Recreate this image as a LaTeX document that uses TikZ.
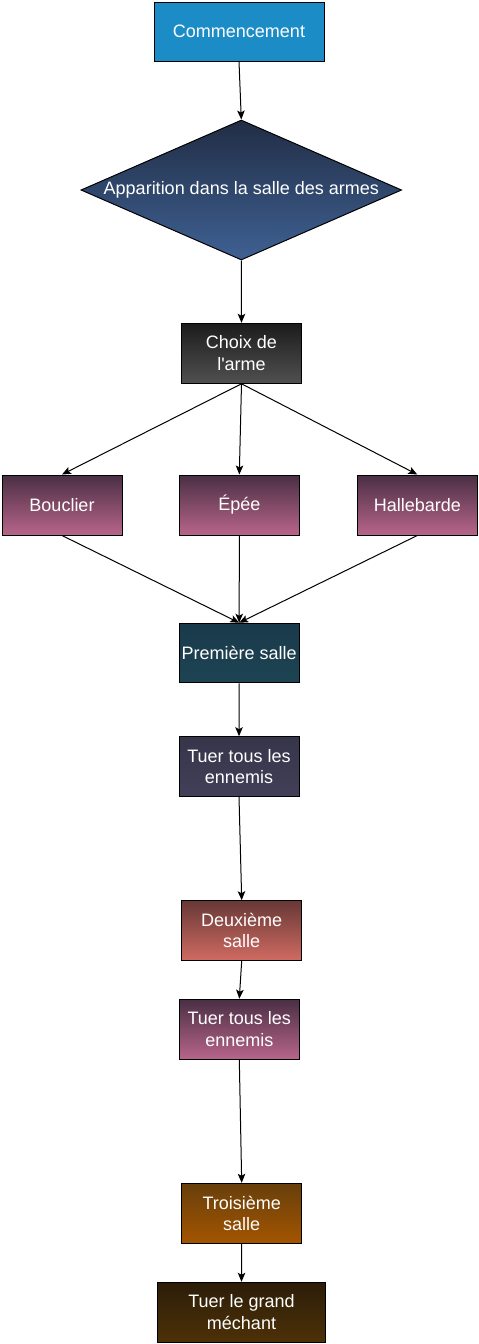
\documentclass[tikz,border=0pt]{standalone}
\usepackage{fontspec}
\setmainfont{Liberation Sans}
\usetikzlibrary{arrows.meta,shapes.geometric}
\definecolor{cstart}{HTML}{1B8CC5}
\definecolor{diaT}{HTML}{212D45}
\definecolor{diaB}{HTML}{3F6193}
\definecolor{choixT}{HTML}{1C1C1C}
\definecolor{choixB}{HTML}{505050}
\definecolor{armT}{HTML}{4A2F44}
\definecolor{armB}{HTML}{B8658A}
\definecolor{premT}{HTML}{1A3A4A}
\definecolor{premB}{HTML}{1D4454}
\definecolor{tuerT}{HTML}{36354A}
\definecolor{tuerB}{HTML}{423F58}
\definecolor{deuxT}{HTML}{673836}
\definecolor{deuxB}{HTML}{D06B62}
\definecolor{troisT}{HTML}{673F0C}
\definecolor{troisB}{HTML}{A35500}
\definecolor{grandT}{HTML}{2C1D08}
\definecolor{grandB}{HTML}{4D3108}
\begin{document}
\begin{tikzpicture}[x=1pt,y=-1pt,
  box/.style={draw=black, line width=1pt, minimum width=120pt, minimum height=60pt,
    inner sep=0pt, align=center, text=white, font=\fontsize{18}{21.6}\selectfont},
  arr/.style={draw=black, line width=1pt, -{Stealth[length=9pt,width=7.5pt,inset=2pt]}}]
\useasboundingbox (0,0) rectangle (479,1344);

\node[box, fill=cstart, minimum width=170pt, minimum height=59pt] (start) at (239,31.5) {Commencement};
\node[box, shape=diamond, top color=diaT, bottom color=diaB, minimum width=320.7pt, minimum height=140pt, aspect=2.29] (dia) at (241.3,190) {Apparition dans la salle des armes};
\node[box, top color=choixT, bottom color=choixB] (choix) at (241.5,353.3) {Choix de\\l\textquotesingle arme};
\node[box, top color=armT, bottom color=armB] (bouclier) at (62,505) {Bouclier};
\node[box, top color=armT, bottom color=armB] (epee) at (239.3,505) {Épée};
\node[box, top color=armT, bottom color=armB] (halle) at (417.3,505) {Hallebarde};
\node[box, top color=premT, bottom color=premB, minimum height=59.5pt] (prem) at (239.2,653) {Première salle};
\node[box, top color=tuerT, bottom color=tuerB, minimum height=59.4pt] (tuer1) at (239,766.4) {Tuer tous les\\ennemis};
\node[box, top color=deuxT, bottom color=deuxB, minimum height=59.6pt] (deux) at (241.7,930.5) {Deuxième\\salle};
\node[box, top color=armT, bottom color=armB] (tuer2) at (239.3,1029.2) {Tuer tous les\\ennemis};
\node[box, top color=troisT, bottom color=troisB] (trois) at (241.7,1213.3) {Troisième\\salle};
\node[box, top color=grandT, bottom color=grandB, minimum width=168.4pt] (grand) at (241.5,1312.3) {Tuer le grand\\méchant};

\draw[arr] (start.south) -- (dia.north);
\draw[arr] (dia.south) -- (choix.north);
\draw[arr] (choix.south) -- (bouclier.north);
\draw[arr] (choix.south) -- (epee.north);
\draw[arr] (choix.south) -- (halle.north);
\draw[arr] (bouclier.south) -- (prem.north);
\draw[arr] (epee.south) -- (prem.north);
\draw[arr] (halle.south) -- (prem.north);
\draw[arr] (prem.south) -- (tuer1.north);
\draw[arr] (tuer1.south) -- (deux.north);
\draw[arr] (deux.south) -- (tuer2.north);
\draw[arr] (tuer2.south) -- (trois.north);
\draw[arr] (trois.south) -- (grand.north);
\end{tikzpicture}
\end{document}
